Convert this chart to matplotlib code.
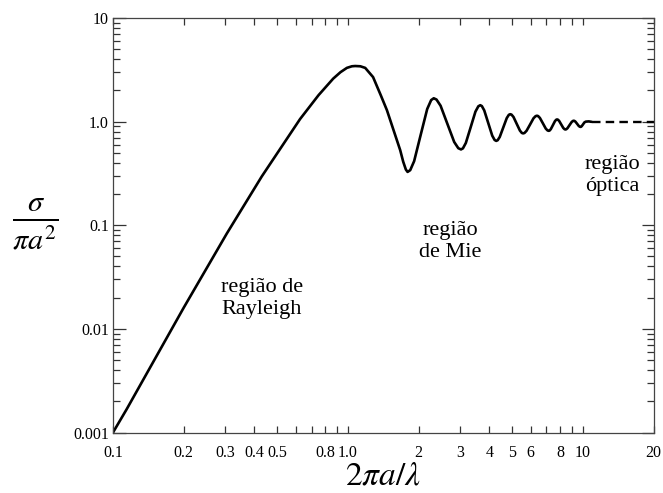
import matplotlib
matplotlib.use('Agg')
import matplotlib.pyplot as plt
from matplotlib.ticker import FixedLocator, FixedFormatter, NullLocator

plt.rcParams['font.family'] = ['Liberation Serif', 'DejaVu Serif']
plt.rcParams['mathtext.fontset'] = 'stix'

# curve (x = 2*pi*a/lambda, y = sigma/(pi a^2))
x_mie = [0.1, 0.1144, 0.2, 0.305, 0.43, 0.626, 0.75, 0.866, 0.93, 0.99, 1.04, 1.074, 1.13, 1.185,
         1.28, 1.38, 1.466, 1.67, 1.72, 1.765, 1.795,
         1.842, 1.914, 2.04, 2.176, 2.262, 2.32,
         2.383, 2.481, 2.652, 2.835, 2.951, 3.03,
         3.088, 3.177, 3.331, 3.491, 3.592, 3.66,
         3.718, 3.806, 3.958, 4.116, 4.213, 4.28,
         4.34, 4.43, 4.585, 4.746, 4.843, 4.91,
         4.973, 5.069, 5.231, 5.398, 5.5, 5.57,
         5.646, 5.762, 5.963, 6.168, 6.294, 6.38,
         6.454, 6.567, 6.76, 6.957, 7.078, 7.16,
         7.22, 7.308, 7.46, 7.614, 7.708, 7.77,
         7.833, 7.93, 8.093, 8.26, 8.363, 8.43,
         8.501, 8.604, 8.782, 8.965, 9.076, 9.15,
         9.211, 9.301, 9.456, 9.612, 9.708, 9.77,
         9.822, 9.9, 10.03, 10.16, 10.3, 10.6, 10.9]
y_mie = [0.001, 0.00168, 0.016, 0.083, 0.296, 1.06, 1.8, 2.6, 3.0, 3.3, 3.42, 3.44, 3.42, 3.3,
         2.69, 1.8, 1.29, 0.53, 0.41, 0.345, 0.327,
         0.34, 0.415, 0.741, 1.324, 1.614, 1.68,
         1.634, 1.423, 0.951, 0.636, 0.554, 0.539,
         0.552, 0.622, 0.881, 1.248, 1.406, 1.44,
         1.413, 1.283, 0.969, 0.732, 0.665, 0.652,
         0.661, 0.711, 0.877, 1.082, 1.163, 1.18,
         1.168, 1.109, 0.953, 0.82, 0.778, 0.77,
         0.777, 0.816, 0.937, 1.077, 1.129, 1.14,
         1.131, 1.085, 0.964, 0.856, 0.822, 0.815,
         0.82, 0.846, 0.925, 1.012, 1.043, 1.05,
         1.044, 1.016, 0.939, 0.868, 0.845, 0.84,
         0.844, 0.864, 0.926, 0.991, 1.015, 1.02,
         1.016, 1.0, 0.953, 0.908, 0.893, 0.89,
         0.891, 0.905, 0.943, 0.983, 1.0, 1.005, 0.995]

# optical limit (dashed)
x_opt = [10.9, 20]
y_opt = [0.995, 0.995]

xticks = [0.1, 0.2, 0.3, 0.4, 0.5, 0.6, 0.7, 0.8, 0.9, 1.0,
          2, 3, 4, 5, 6, 7, 8, 9, 10, 20]
xticklabels = ['0.1', '0.2', '0.3', '0.4', '0.5', '', '', '0.8', '', '1.0',
               '2', '3', '4', '5', '6', '', '8', '', '10', '20']
yticks = [0.001, 0.01, 0.1, 1.0, 10]
yticklabels = ['0.001', '0.01', '0.1', '1.0', '10']

fig = plt.figure(figsize=(6.63, 4.93), dpi=100)
ax = fig.add_axes([0.1704, 0.1227, 0.8153, 0.8408])

ax.plot(x_mie, y_mie, color='black', lw=1.9, solid_capstyle='round', solid_joinstyle='round')
ax.plot(x_opt, y_opt, color='black', lw=1.7, linestyle=(0, (3.6, 2.2)))

ax.set_xscale('log')
ax.set_yscale('log')
ax.set_xlim(0.1, 20)
ax.set_ylim(0.001, 10)

ax.xaxis.set_major_locator(FixedLocator(xticks))
ax.xaxis.set_major_formatter(FixedFormatter(xticklabels))
ax.xaxis.set_minor_locator(NullLocator())
ax.yaxis.set_major_locator(FixedLocator(yticks))
ax.yaxis.set_major_formatter(FixedFormatter(yticklabels))
ax.yaxis.set_minor_locator(FixedLocator([m * d for d in [0.001, 0.01, 0.1, 1.0] for m in range(2, 10)]))

ax.tick_params(axis='both', which='both', direction='in', top=True, right=True,
               color='#333333', labelsize=11.5, width=0.9)
ax.tick_params(axis='x', which='major', length=5, pad=9)
ax.tick_params(axis='y', which='major', length=9, pad=3)
ax.tick_params(axis='y', which='minor', length=5)
for s in ax.spines.values():
    s.set_color('#444444')
    s.set_linewidth(0.9)

ax.set_xlabel(r'$2\pi a/\lambda$', fontsize=24, labelpad=0)
ax.set_ylabel(r'$\frac{\sigma}{\pi a^2}$', fontsize=31, rotation=0, labelpad=27, va='center')

ax.text(0.43, 0.0195, 'região de\nRayleigh', fontsize=16, ha='center', va='center', linespacing=1.2)
ax.text(2.73, 0.07, 'região\nde Mie', fontsize=16, ha='center', va='center', linespacing=1.2)
ax.text(13.4, 0.30, 'região\nóptica', fontsize=16, ha='center', va='center', linespacing=1.2)

fig.savefig('out.png', dpi=100)
